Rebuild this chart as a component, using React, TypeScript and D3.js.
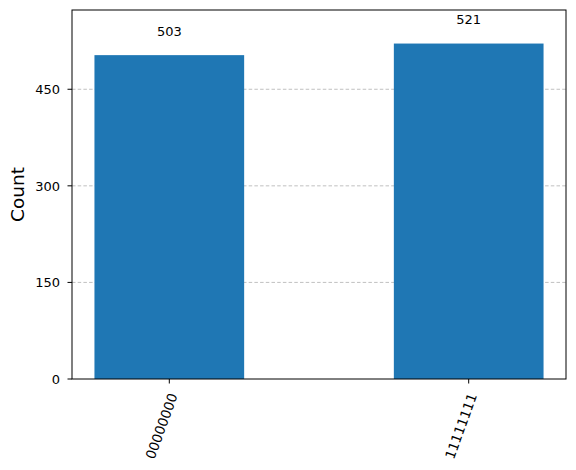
import { useEffect, useRef } from "react";
import * as d3 from 'd3'

const bitstrings = ['00000000', '11111111']
const counts = [503, 521]
const yTicks = [0, 150, 300, 450]

const W = 576
const H = 470
const margin = { left: 72, right: 10, top: 10, bottom: 91 }

export function drawHistogram(svgRef: any) {
    const svg = d3.select(svgRef.current)
    svg.selectAll('*').remove()
    const x0 = margin.left
    const x1 = W - margin.right
    const y0 = H - margin.bottom
    const y1 = margin.top

    // matplotlib style limits: bar width 0.5, 5% margins
    const x = d3.scaleLinear().domain([-0.325, bitstrings.length - 1 + 0.325]).range([x0, x1])
    const y = d3.scaleLinear().domain([0, d3.max(counts)! * 1.1]).range([y0, y1])
    const font = 'DejaVu Sans, sans-serif'

    // grid
    svg.selectAll('line.grid')
        .data(yTicks.filter(d => d > 0))
        .join('line')
        .attr('class', 'grid')
        .attr('x1', x0)
        .attr('x2', x1)
        .attr('y1', d => y(d))
        .attr('y2', d => y(d))
        .attr('stroke', '#b0b0b0')
        .attr('stroke-width', 0.8)
        .attr('stroke-dasharray', '3.5,2.2')

    // bars
    svg.selectAll('rect.bar')
        .data(counts)
        .join('rect')
        .attr('class', 'bar')
        .attr('x', (d, i) => x(i - 0.25))
        .attr('width', x(0.25) - x(-0.25))
        .attr('y', d => y(d))
        .attr('height', d => y0 - y(d))
        .attr('fill', '#1f77b4')

    // value labels
    svg.selectAll('text.val')
        .data(counts)
        .join('text')
        .attr('class', 'val')
        .attr('x', (d, i) => x(i))
        .attr('y', d => y(d * 1.05) - 3)
        .attr('text-anchor', 'middle')
        .attr('font-family', font)
        .attr('font-size', 13)
        .attr('fill', '#000')
        .text(d => d)

    // frame
    svg.append('rect')
        .attr('x', x0)
        .attr('y', y1)
        .attr('width', x1 - x0)
        .attr('height', y0 - y1)
        .attr('fill', 'none')
        .attr('stroke', '#000')
        .attr('stroke-width', 1)

    // y axis
    const yAxis = svg.append('g')
    yAxis.selectAll('line')
        .data(yTicks)
        .join('line')
        .attr('x1', x0 - 4.5)
        .attr('x2', x0)
        .attr('y1', d => y(d))
        .attr('y2', d => y(d))
        .attr('stroke', '#000')
    yAxis.selectAll('text')
        .data(yTicks)
        .join('text')
        .attr('x', x0 - 12)
        .attr('y', d => y(d))
        .attr('dy', '0.36em')
        .attr('text-anchor', 'end')
        .attr('font-family', font)
        .attr('font-size', 13)
        .text(d => d)

    // x axis
    const xAxis = svg.append('g')
    xAxis.selectAll('line')
        .data(bitstrings)
        .join('line')
        .attr('x1', (d, i) => x(i))
        .attr('x2', (d, i) => x(i))
        .attr('y1', y0)
        .attr('y2', y0 + 4.5)
        .attr('stroke', '#000')
    xAxis.selectAll('text')
        .data(bitstrings)
        .join('text')
        .attr('transform', (d, i) => `translate(${x(i) + 8.5},${y0 + 16.5}) rotate(-70)`)
        .attr('text-anchor', 'end')
        .attr('font-family', font)
        .attr('font-size', 13.5)
        .text(d => d)

    // y label
    svg.append('text')
        .attr('transform', `translate(24,${(y0 + y1) / 2}) rotate(-90)`)
        .attr('text-anchor', 'middle')
        .attr('font-family', font)
        .attr('font-size', 18.5)
        .text('Count')
}

export default function App() {
    const svgRef = useRef<SVGSVGElement>(null)
    useEffect(() => {
        drawHistogram(svgRef)
    }, [])
    return (
        <svg ref={svgRef} width={W} height={H}
            style={{ position: 'absolute', left: 0, top: 0, background: '#fff' }} />
    )
}
